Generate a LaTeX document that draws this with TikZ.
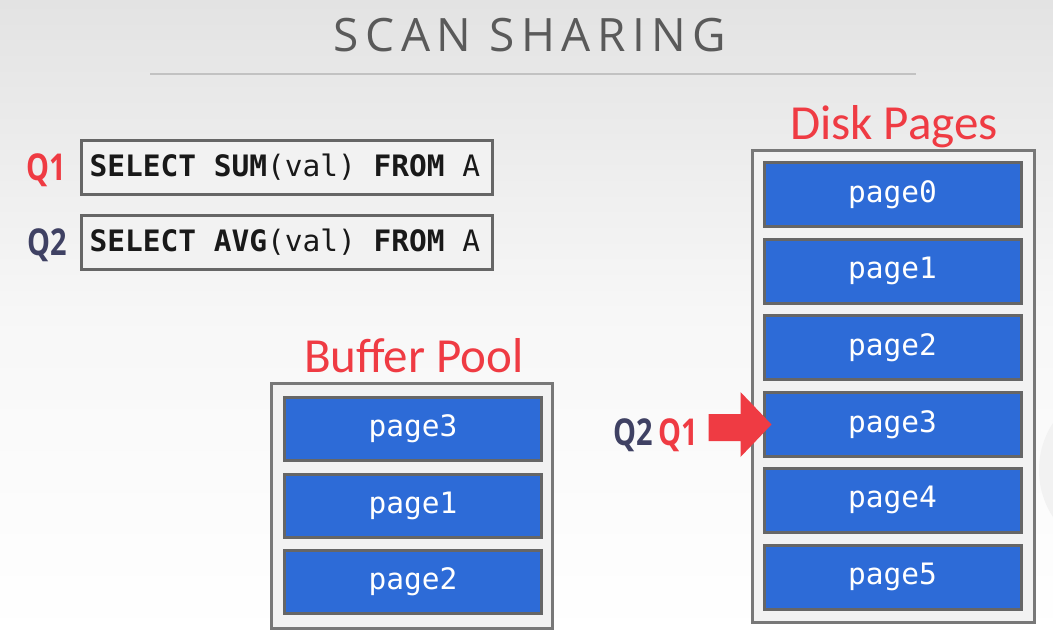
\documentclass[tikz,border=0pt]{standalone}
\usepackage{fontspec}
\setmainfont{Open Sans}
\newfontfamily\titlefont[LetterSpace=14]{Open Sans}
\newfontfamily\labelfont{Carlito}
\newfontfamily\qfont{Open Sans}
\setmonofont{DejaVu Sans Mono}
\definecolor{qred}{HTML}{EF3B43}
\definecolor{qnavy}{HTML}{3F4163}
\definecolor{pageblue}{HTML}{2D6BD7}
\definecolor{pageedge}{HTML}{666666}
\definecolor{outeredge}{HTML}{787878}
\definecolor{boxfill}{HTML}{F2F2F2}
\definecolor{titlegray}{HTML}{5A5A5A}
\tikzset{
  sqlbox/.style={draw=pageedge, line width=3pt, fill=boxfill, minimum width=411pt, minimum height=54pt, inner sep=0pt, font=\ttfamily\fontsize{29.5}{30}\selectfont, text=black!90},
  poolbox/.style={draw=outeredge, line width=3pt, fill=boxfill, inner sep=0pt},
  pagebox/.style={draw=pageedge, line width=3pt, fill=pageblue, minimum width=257pt, minimum height=64pt, inner sep=0pt, text=white, font=\ttfamily\fontsize{29.5}{30}\selectfont},
  sectitle/.style={text=qred, font=\labelfont\fontsize{49}{50}\selectfont, inner sep=0pt, anchor=base},
  qlabel/.style={font=\qfont\bfseries\fontsize{37}{38}\selectfont, inner sep=0pt, anchor=base}
}
\begin{document}
\begin{tikzpicture}[x=1pt,y=-1pt]
\shade[top color=black!11, bottom color=white, middle color=black!3] (0,0) rectangle (1053,638);
\useasboundingbox (0,0) rectangle (1053,638);
% faint watermark
\begin{scope}
\clip (1036,0) rectangle (1053,638);
\draw[black!5, line width=22pt] (1125,470) circle (75);
\end{scope}
% title
\node[text=titlegray, font=\titlefont\fontsize{46}{47}\selectfont, anchor=base, inner sep=0pt] (title) at (530,51) {SCAN SHARING};
\draw[black!24, line width=2pt] (150,73.5) coordinate (l1) -- (916,73.5) coordinate (l2);
% queries
\node[sqlbox, anchor=north west] (sql1) at (80,139) {\makebox[395pt][l]{\textbf{SELECT} \textbf{SUM}(val) \textbf{FROM} A}};
\node[sqlbox, anchor=north west] (sql2) at (80,214) {\makebox[395pt][l]{\textbf{SELECT} \textbf{AVG}(val) \textbf{FROM} A}};
\node[qlabel, text=qred] (q1) at (46,180) {\scalebox{0.78}[1]{Q1}};
\node[qlabel, text=qnavy] (q2) at (47.5,255) {\scalebox{0.78}[1]{Q2}};
% buffer pool
\node[sectitle] (bptitle) at (414,372) {Buffer Pool};
\node[poolbox, minimum width=281pt, minimum height=245pt] (bp) at (411.5,505.5) {};
\node[pagebox, minimum height=63pt] (b3) at (413,429) {page3};
\node[pagebox, minimum height=63pt] (b1) at (413,505.5) {page1};
\node[pagebox, minimum height=63pt] (b2) at (413,581.5) {page2};
% disk pages
\node[sectitle] (dptitle) at (894,139) {Disk Pages};
\node[poolbox, minimum width=282pt, minimum height=472pt] (dp) at (893,386) {};
\node[pagebox] (d0) at (892.5,194.5) {page0};
\node[pagebox] (d1) at (892.5,271) {page1};
\node[pagebox] (d2) at (892.5,347.5) {page2};
\node[pagebox] (d3) at (892.5,424.5) {page3};
\node[pagebox] (d4) at (892.5,500) {page4};
\node[pagebox] (d5) at (892.5,577) {page5};
% cursor arrow
\coordinate (tip) at ([xshift=9pt]d3.west);
\fill[qred] (tip) -- ++(-31,-32.5) -- ++(0,22) -- ++(-32,0) -- ++(0,27) -- ++(32,0) -- ++(0,16) -- cycle;
\node[qlabel, text=qnavy] (cq2) at (633,445) {\scalebox{0.78}[1]{Q2}};
\node[qlabel, text=qred] (cq1) at (678,445) {\scalebox{0.78}[1]{Q1}};
\end{tikzpicture}
\end{document}
